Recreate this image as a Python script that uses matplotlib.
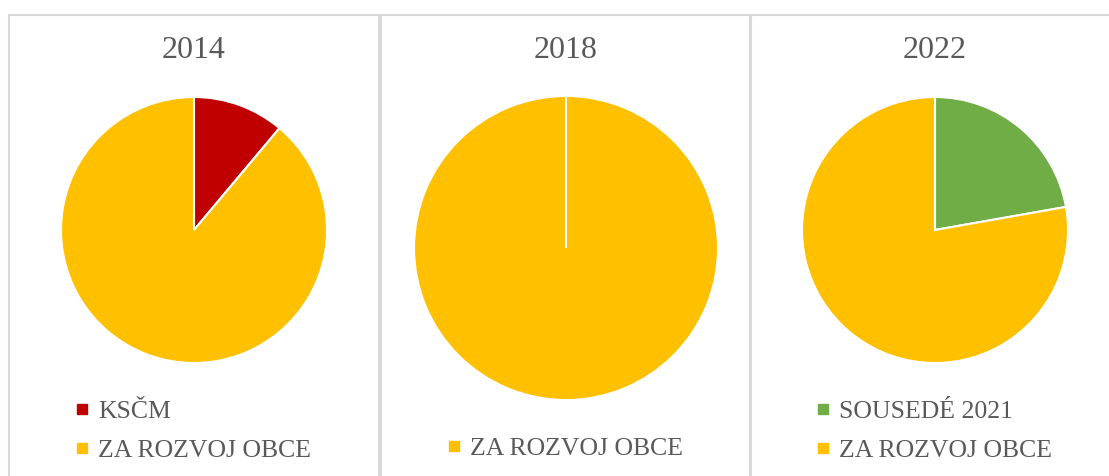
import matplotlib.pyplot as plt
from matplotlib.patches import Rectangle
from matplotlib.lines import Line2D

# data: seats per party in each election
years = ["2014", "2018", "2022"]
parties_2014 = ["KSČM", "ZA ROZVOJ OBCE"]
seats_2014 = [1, 8]
parties_2018 = ["KSČM", "ZA ROZVOJ OBCE"]
seats_2018 = [0, 9]
parties_2022 = ["SOUSEDÉ 2021", "ZA ROZVOJ OBCE"]
seats_2022 = [2, 7]

colors = {"KSČM": "#C00000", "ZA ROZVOJ OBCE": "#FFC000", "SOUSEDÉ 2021": "#70AD47"}
text_color = "#595959"

plt.rcParams["font.family"] = ["Liberation Serif", "DejaVu Serif"]

W, H = 1109, 476
fig = plt.figure(figsize=(W / 100, H / 100), dpi=100)


def fx(px):
    return px / W


def fy(py):
    return 1 - py / H


# panel frames (pixels: left, right)
panels = [(9, 379), (381, 750), (751, 1125)]
for left, right in panels:
    fig.add_artist(
        Rectangle(
            (fx(left), fy(H + 20)),
            fx(right - left),
            (H + 20 - 15) / H,
            transform=fig.transFigure,
            fill=False,
            edgecolor="#D9D9D9",
            linewidth=1.5,
        )
    )

# pie centre x, centre y, radius in pixels
pie_pos = [(194, 230, 133), (566, 248, 152), (935, 230, 133)]
title_x = [194, 566, 935]
legend_pos = [(76, 400), (448, 437), (817, 400)]

data = [(parties_2014, seats_2014), (parties_2018, seats_2018), (parties_2022, seats_2022)]

for i, (parties, seats) in enumerate(data):
    cx, cy, r = pie_pos[i]
    ax = fig.add_axes([fx(cx - r), fy(cy + r), fx(2 * r), 2 * r / H])
    wedges, _ = ax.pie(
        seats,
        colors=[colors[p] for p in parties],
        startangle=90,
        counterclock=False,
        wedgeprops={"edgecolor": "white", "linewidth": 1.5},
    )
    for w in wedges:
        if w.theta1 == w.theta2:
            w.set_zorder(3)
    ax.set_xlim(-1, 1)
    ax.set_ylim(-1, 1)
    ax.set_aspect("equal")
    ax.axis("off")

    fig.text(fx(title_x[i]), fy(51), years[i], ha="center", va="center",
             fontsize=23, color=text_color)

    handles = [
        Line2D([], [], marker="s", linestyle="none", markersize=6.5,
               markerfacecolor=colors[p], markeredgecolor=colors[p])
        for p, s in zip(parties, seats) if s > 0
    ]
    labels = [p for p, s in zip(parties, seats) if s > 0]
    lx, ly = legend_pos[i]
    fig.legend(
        handles, labels,
        loc="upper left",
        bbox_to_anchor=(fx(lx), fy(ly)),
        frameon=False,
        fontsize=18.5,
        handlelength=0.5,
        handletextpad=0.35,
        labelspacing=0.62,
        borderpad=0,
        borderaxespad=0,
        labelcolor=text_color,
    )

fig.savefig("out.png", dpi=100)
